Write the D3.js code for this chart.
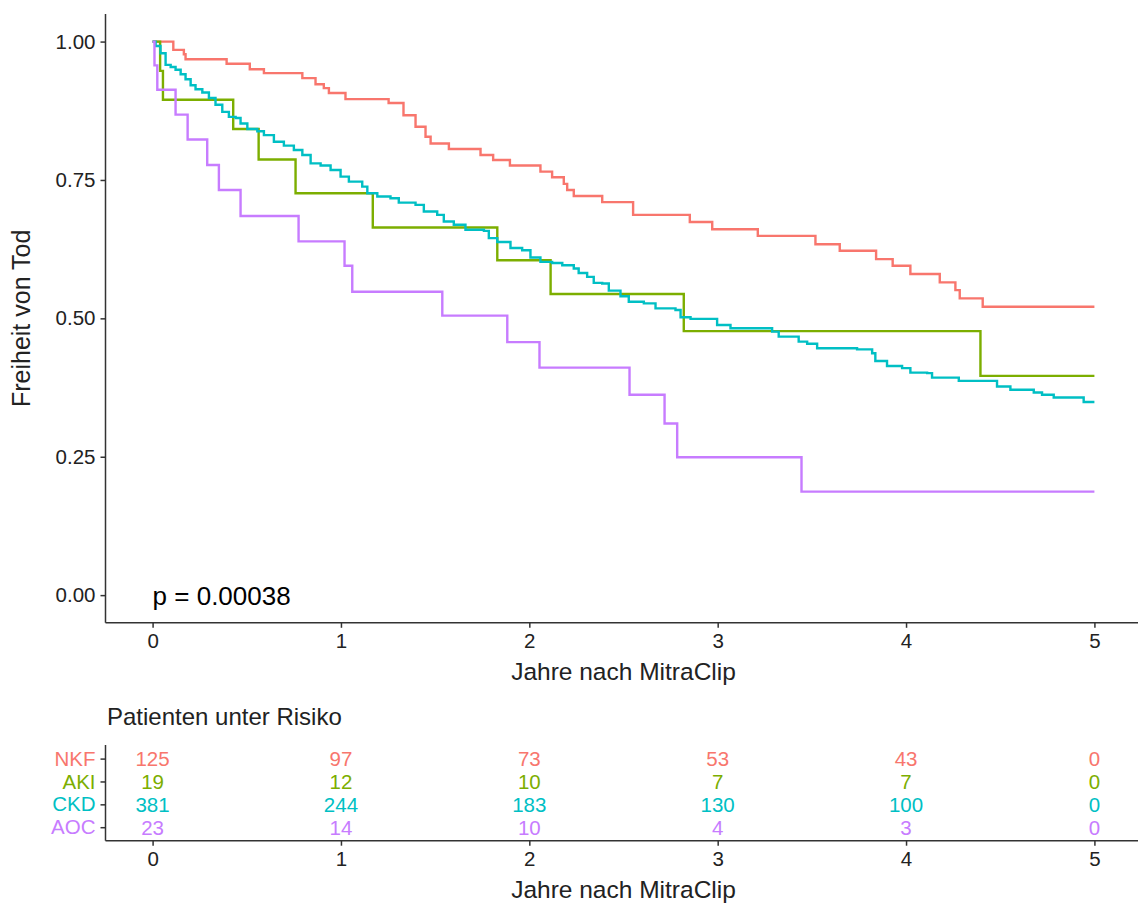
<!DOCTYPE html>
<html>
<head>
<meta charset="utf-8">
<script src="https://cdn.jsdelivr.net/npm/d3@7"></script>
<style>
  html, body { margin: 0; padding: 0; background: #fff; }
  svg { display: block; font-family: "Liberation Sans", Arial, sans-serif; }
</style>
</head>
<body>
<div id="chart"></div>
<script>
// strata and colours (ggplot hue palette)
const groups = ['NKF', 'AKI', 'CKD', 'AOC'];
const groupColors = ['#F8766D', '#7CAE00', '#00BFC4', '#C77CFF'];

// Kaplan-Meier drop points: time (years) and survival after the drop
const nkfTime = [0, 0.110, 0.166, 0.175, 0.393, 0.516, 0.591, 0.795, 0.865, 0.909, 0.936, 1.024, 1.253, 1.332, 1.396, 1.449, 1.476, 1.573, 1.741, 1.808, 1.897, 2.059, 2.121, 2.183, 2.201, 2.236, 2.387, 2.551, 2.852, 2.971, 3.213, 3.519, 3.648, 3.841, 3.929, 4.023, 4.179, 4.262, 4.285, 4.407, 5.0];
const nkfSurv = [1, 0.985, 0.977, 0.968, 0.960, 0.950, 0.943, 0.934, 0.923, 0.916, 0.907, 0.896, 0.889, 0.867, 0.846, 0.828, 0.816, 0.806, 0.795, 0.786, 0.776, 0.765, 0.755, 0.743, 0.732, 0.721, 0.710, 0.687, 0.674, 0.661, 0.649, 0.634, 0.622, 0.607, 0.595, 0.580, 0.565, 0.551, 0.536, 0.521, 0.521];

const akiTime = [0, 0.040, 0.055, 0.428, 0.563, 0.759, 1.169, 1.830, 2.113, 2.820, 4.395, 5.0];
const akiSurv = [1, 0.947, 0.895, 0.842, 0.787, 0.726, 0.664, 0.605, 0.544, 0.477, 0.396, 0.396];

const ckdTime = [0, 0.016, 0.042, 0.069, 0.096, 0.122, 0.149, 0.175, 0.202, 0.228, 0.264, 0.299, 0.334, 0.370, 0.405, 0.441, 0.467, 0.503, 0.556, 0.591, 0.644, 0.697, 0.750, 0.795, 0.839, 0.892, 0.945, 0.998, 1.042, 1.113, 1.140, 1.193, 1.263, 1.307, 1.396, 1.440, 1.511, 1.546, 1.599, 1.661, 1.759, 1.785, 1.830, 1.900, 1.962, 2.006, 2.059, 2.121, 2.175, 2.236, 2.262, 2.307, 2.342, 2.387, 2.422, 2.484, 2.528, 2.608, 2.670, 2.776, 2.803, 2.856, 2.997, 3.068, 3.289, 3.324, 3.430, 3.475, 3.528, 3.740, 3.820, 3.837, 3.899, 3.979, 4.023, 4.112, 4.138, 4.280, 4.483, 4.554, 4.678, 4.722, 4.784, 4.943, 5.0];
const ckdSurv = [1, 0.992, 0.979, 0.958, 0.954, 0.949, 0.941, 0.932, 0.921, 0.914, 0.908, 0.898, 0.886, 0.873, 0.864, 0.862, 0.852, 0.842, 0.838, 0.831, 0.819, 0.812, 0.804, 0.795, 0.780, 0.776, 0.768, 0.756, 0.747, 0.738, 0.726, 0.720, 0.717, 0.709, 0.705, 0.693, 0.687, 0.675, 0.669, 0.660, 0.658, 0.645, 0.638, 0.627, 0.623, 0.610, 0.602, 0.600, 0.596, 0.590, 0.582, 0.575, 0.564, 0.563, 0.550, 0.540, 0.530, 0.527, 0.518, 0.515, 0.502, 0.499, 0.488, 0.482, 0.476, 0.467, 0.458, 0.454, 0.446, 0.444, 0.437, 0.423, 0.414, 0.410, 0.402, 0.401, 0.393, 0.387, 0.377, 0.371, 0.366, 0.362, 0.357, 0.349, 0.349];

const aocTime = [0, 0.010, 0.025, 0.122, 0.186, 0.290, 0.352, 0.467, 0.775, 1.019, 1.060, 1.538, 1.883, 2.054, 2.532, 2.718, 2.785, 3.445, 5.0];
const aocSurv = [1, 0.957, 0.913, 0.868, 0.823, 0.777, 0.732, 0.685, 0.639, 0.595, 0.548, 0.505, 0.457, 0.411, 0.362, 0.310, 0.249, 0.187, 0.187];

// numbers at risk
const riskTimes = [0, 1, 2, 3, 4, 5];
const riskNKF = [125, 97, 73, 53, 43, 0];
const riskAKI = [19, 12, 10, 7, 7, 0];
const riskCKD = [381, 244, 183, 130, 100, 0];
const riskAOC = [23, 14, 10, 4, 3, 0];

const xTicks = [0, 1, 2, 3, 4, 5];
const yTicks = [0, 0.25, 0.5, 0.75, 1];
const pLabel = 'p = 0.00038';

const series = [
    { name: 'NKF', t: nkfTime, s: nkfSurv, risk: riskNKF },
    { name: 'AKI', t: akiTime, s: akiSurv, risk: riskAKI },
    { name: 'CKD', t: ckdTime, s: ckdSurv, risk: riskCKD },
    { name: 'AOC', t: aocTime, s: aocSurv, risk: riskAOC }
];

const width = 1138, height = 903;
const axisColor = '#333';

const svg = d3.select('#chart').append('svg')
    .attr('width', width)
    .attr('height', height);

const x = d3.scaleLinear().domain([-0.25, 5.25]).range([105.5, 1141.5]);
const y = d3.scaleLinear().domain([-0.05, 1.05]).range([622.8, 13.9]);

// survival curves
const line = d3.line()
    .x(d => x(d[0]))
    .y(d => y(d[1]))
    .curve(d3.curveStepAfter);

series.forEach((sr, i) => {
    const pts = sr.t.map((t, j) => [t, sr.s[j]]);
    svg.append('path')
        .attr('d', line(pts))
        .attr('fill', 'none')
        .attr('stroke', groupColors[i])
        .attr('stroke-width', 2.4);
});

// main axes
const xAxis = svg.append('g')
    .attr('transform', `translate(0,${y.range()[0]})`)
    .call(d3.axisBottom(x).tickValues(xTicks).tickFormat(d3.format('d')).tickSize(5).tickPadding(6));

const yAxis = svg.append('g')
    .attr('transform', `translate(${x.range()[0]},0)`)
    .call(d3.axisLeft(y).tickValues(yTicks).tickFormat(d3.format('.2f')).tickSize(5).tickPadding(5));

[xAxis, yAxis].forEach(ax => {
    ax.select('.domain').attr('stroke', axisColor).attr('stroke-width', 1.5)
        .attr('d', ax === xAxis
            ? `M${x.range()[0]},0H${x.range()[1]}`
            : `M0,${y.range()[1]}V${y.range()[0]}`);
    ax.selectAll('.tick line').attr('stroke', axisColor).attr('stroke-width', 1.5);
    ax.selectAll('.tick text').attr('fill', '#222').style('font-size', '20.5px')
        .style('font-family', '"Liberation Sans", Arial, sans-serif');
});

svg.append('text')
    .attr('x', (x(0) + x(5)) / 2)
    .attr('y', 680)
    .attr('text-anchor', 'middle')
    .attr('fill', '#222')
    .style('font-size', '24.5px')
    .text('Jahre nach MitraClip');

svg.append('text')
    .attr('transform', `translate(30,${(y.range()[0] + y.range()[1]) / 2}) rotate(-90)`)
    .attr('text-anchor', 'middle')
    .attr('fill', '#222')
    .style('font-size', '25px')
    .text('Freiheit von Tod');

svg.append('text')
    .attr('x', x(0))
    .attr('y', 605)
    .attr('fill', '#000')
    .style('font-size', '26px')
    .text(pLabel);

// risk table
const ry = d3.scalePoint().domain(groups.slice().reverse()).range([827.2, 758.6]);
const tableBottom = 840.7, tableTop = 745;

svg.append('text')
    .attr('x', 107)
    .attr('y', 725)
    .attr('fill', '#222')
    .style('font-size', '24px')
    .text('Patienten unter Risiko');

series.forEach((sr, i) => {
    sr.risk.forEach((n, j) => {
        svg.append('text')
            .attr('x', x(riskTimes[j]))
            .attr('y', ry(sr.name))
            .attr('dy', '0.36em')
            .attr('text-anchor', 'middle')
            .attr('fill', groupColors[i])
            .style('font-size', '20.5px')
            .text(n);
    });
});

const rxAxis = svg.append('g')
    .attr('transform', `translate(0,${tableBottom})`)
    .call(d3.axisBottom(x).tickValues(xTicks).tickFormat(d3.format('d')).tickSize(5).tickPadding(6));

const ryAxis = svg.append('g')
    .attr('transform', `translate(${x.range()[0]},0)`)
    .call(d3.axisLeft(ry).tickSize(5).tickPadding(5));

rxAxis.select('.domain').attr('stroke', axisColor).attr('stroke-width', 1.5)
    .attr('d', `M${x.range()[0]},0H${x.range()[1]}`);
ryAxis.select('.domain').attr('stroke', axisColor).attr('stroke-width', 1.5)
    .attr('d', `M0,${tableTop}V${tableBottom}`);
[rxAxis, ryAxis].forEach(ax => {
    ax.selectAll('.tick line').attr('stroke', axisColor).attr('stroke-width', 1.5);
    ax.selectAll('.tick text').style('font-size', '20.5px')
        .style('font-family', '"Liberation Sans", Arial, sans-serif');
});
rxAxis.selectAll('.tick text').attr('fill', '#222');
ryAxis.selectAll('.tick text').attr('fill', d => groupColors[groups.indexOf(d)]);

svg.append('text')
    .attr('x', (x(0) + x(5)) / 2)
    .attr('y', 898)
    .attr('text-anchor', 'middle')
    .attr('fill', '#222')
    .style('font-size', '24.5px')
    .text('Jahre nach MitraClip');
</script>
</body>
</html>
